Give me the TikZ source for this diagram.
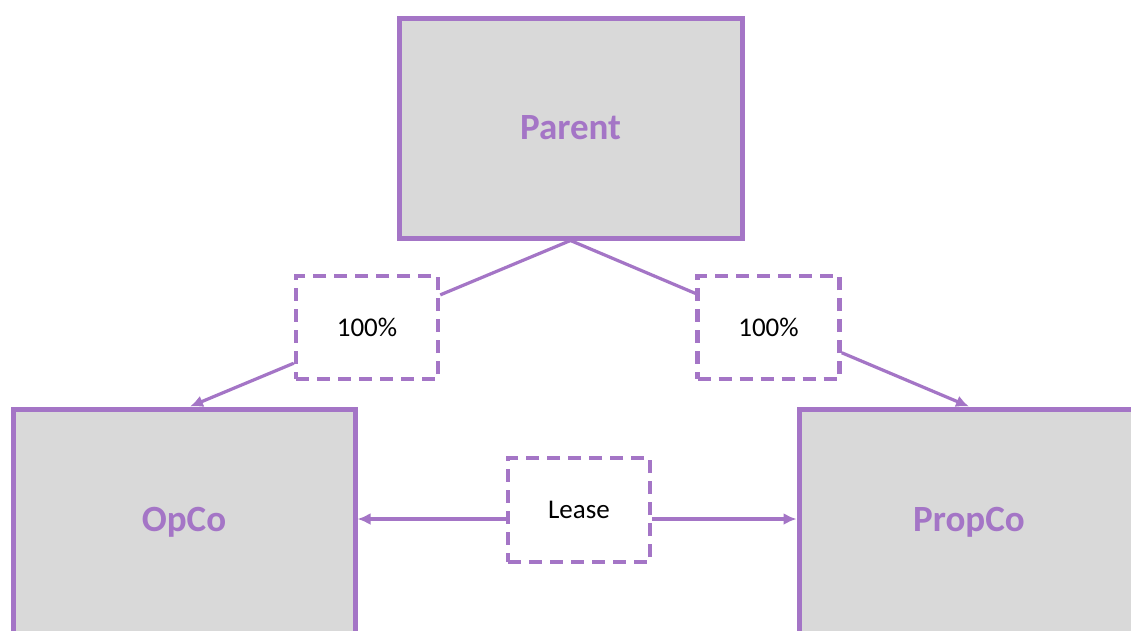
\documentclass[tikz,border=0pt]{standalone}
\usepackage{fontspec}
\setmainfont{Carlito}
\usetikzlibrary{arrows.meta}
\definecolor{lilac}{RGB}{164,117,198}
\definecolor{boxgray}{RGB}{217,217,217}
\begin{document}
\begin{tikzpicture}[x=1pt, y=-1pt, >={Latex[length=13pt,width=12pt]},
    entity/.style={draw=lilac, line width=5pt, fill=boxgray, text=lilac,
      font=\fontsize{37}{40}\selectfont\bfseries, inner sep=0pt},
    share/.style={draw=lilac, line width=4.5pt, dash pattern=on 13pt off 8pt,
      fill=white, font=\fontsize{27}{30}\selectfont, minimum width=142pt,
      minimum height=103pt, inner sep=0pt},
    link/.style={draw=lilac, line width=3.2pt}]
    \clip (0, 0) rectangle (1131, 630);
    \fill[white] (0, 0) rectangle (1131, 630);
    \node[entity, minimum width=343pt, minimum height=220pt] (parent) at (570.5, 128) {Parent};
    \node[entity, minimum width=342pt, minimum height=226pt] (opco) at (184, 522) {OpCo};
    \node[entity, minimum width=340pt, minimum height=226pt] (propco) at (969, 522) {PropCo};
    \node[share] (leftshare) at (367, 327.5) {100\%};
    \node[share] (rightshare) at (768.5, 327.5) {100\%};
    \node[share, minimum height=104pt] (lease) at (579, 510) {Lease};
    \draw[link] (parent.south) -- (leftshare.24);
    \draw[link, ->] (leftshare.206) -- ([xshift=6pt]opco.north);
    \draw[link] (parent.south) -- (rightshare.155);
    \draw[link, ->] (rightshare.-19) -- (propco.north);
    \draw[link, ->] ([yshift=-9pt]lease.west) -- ([yshift=-9pt]lease.west -| opco.east);
    \draw[link, ->] ([yshift=-9pt]lease.east) -- ([yshift=-9pt]lease.east -| propco.west);
  \end{tikzpicture}
\end{document}
